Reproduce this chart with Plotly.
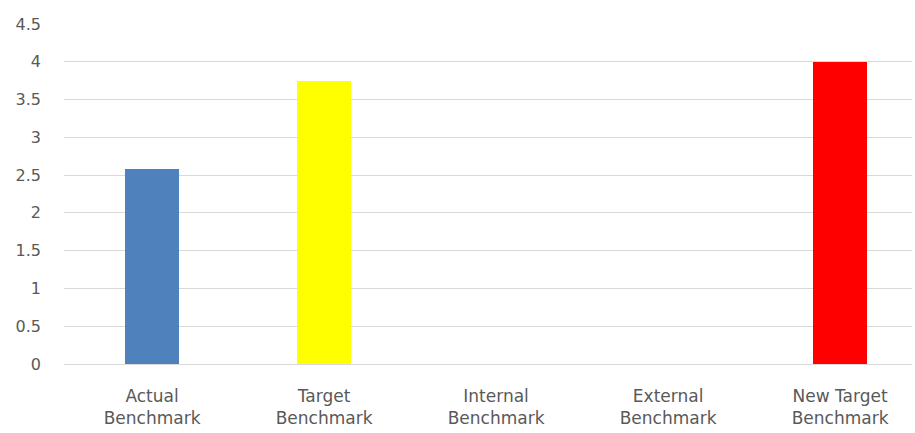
import plotly.graph_objects as go

categories = ["Actual<br>Benchmark", "Target<br>Benchmark", "Internal<br>Benchmark",
              "External<br>Benchmark", "New Target<br>Benchmark"]
values = [2.58, 3.75, 0, 0, 4.0]
colors = ["#4F81BD", "#FFFF00", "#D9D9D9", "#D9D9D9", "#FF0000"]
y_ticks = [0, 0.5, 1, 1.5, 2, 2.5, 3, 3.5, 4, 4.5]

fig = go.Figure(go.Bar(
    x=list(range(len(categories))), y=values,
    marker=dict(color=colors, line=dict(width=0)),
    width=0.315,
))

fig.update_layout(
    width=915, height=433,
    margin=dict(l=64, r=3, t=24, b=69),
    plot_bgcolor="white", paper_bgcolor="white",
    font=dict(family="DejaVu Sans, Verdana, sans-serif", size=16, color="#595959"),
    showlegend=False,
    bargap=0,
)
fig.update_xaxes(
    tickmode="array", tickvals=list(range(len(categories))), ticktext=categories,
    range=[-0.512, 4.418], showgrid=False, zeroline=False, showline=False,
    ticks="", ticklabelstandoff=20, tickfont=dict(size=17),
)
fig.update_yaxes(
    range=[0, 4.5], tickvals=y_ticks, ticktext=[f"{v:g}" for v in y_ticks],
    showgrid=True, gridcolor="#D9D9D9", gridwidth=1,
    zeroline=True, zerolinecolor="#D9D9D9", zerolinewidth=1,
    showline=False, ticks="", ticklabelstandoff=22,
)

fig.write_html("out.html")
